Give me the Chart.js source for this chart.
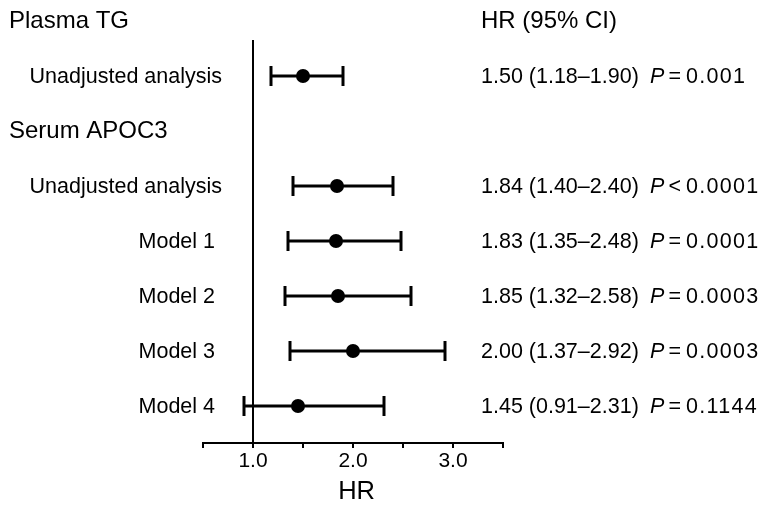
<!DOCTYPE html>
<html>
<head>
<meta charset="utf-8">
<script src="https://cdn.jsdelivr.net/npm/chart.js@4.4.1/dist/chart.umd.min.js"></script>
<style>
  html, body { margin: 0; padding: 0; background: #ffffff; }
  #wrap { width: 771px; height: 511px; position: relative; }
</style>
</head>
<body>
<div id="wrap"><canvas id="c" width="771" height="511"></canvas></div>
<script>
// ---- data ----
const headerLabels = ['Plasma TG', 'Serum APOC3'];
const headerRows = [0, 2];
const rowLabels = ['Unadjusted analysis', 'Unadjusted analysis', 'Model 1', 'Model 2', 'Model 3', 'Model 4'];
const rowIndex = [1, 3, 4, 5, 6, 7];
const hrValues = [1.50, 1.84, 1.83, 1.85, 2.00, 1.45];
const ciLower = [1.18, 1.40, 1.35, 1.32, 1.37, 0.91];
const ciUpper = [1.90, 2.40, 2.48, 2.58, 2.92, 2.31];
const pOperators = ['=', '<', '=', '=', '=', '='];
const pValues = ['0.001', '0.0001', '0.0001', '0.0003', '0.0003', '0.1144'];
const xTickLabels = ['1.0', '2.0', '3.0'];
const columnHeader = 'HR (95% CI)';
const axisTitle = 'HR';

const FONT = "'Liberation Sans', Arial, Helvetica, sans-serif";
Chart.defaults.font.family = FONT;
Chart.defaults.color = '#000';

const yTop = 0.345, yBottom = 7.673;
const refValue = 1.0;

const datasets = [];
// HR points (first = drawn on top)
datasets.push({
  data: hrValues.map((v, i) => ({ x: v, y: rowIndex[i] })),
  showLine: false,
  pointRadius: 7,
  pointBackgroundColor: '#000',
  pointBorderWidth: 0,
  pointStyle: 'circle'
});
// CI whiskers with caps
hrValues.forEach((v, i) => {
  datasets.push({
    data: [{ x: ciLower[i], y: rowIndex[i] }, { x: ciUpper[i], y: rowIndex[i] }],
    showLine: true,
    borderColor: '#000',
    borderWidth: 3,
    pointStyle: 'line',
    pointRotation: 90,
    pointRadius: 10,
    pointBorderColor: '#000',
    pointBorderWidth: 3
  });
});
// reference line at HR = 1
datasets.push({
  data: [{ x: refValue, y: yTop }, { x: refValue, y: yBottom }],
  showLine: true,
  borderColor: '#000',
  borderWidth: 2,
  pointRadius: 0
});

const textPlugin = {
  id: 'forestText',
  afterDraw(chart) {
    const ctx = chart.ctx;
    const ys = chart.scales.y;
    ctx.save();
    ctx.fillStyle = '#000';
    ctx.textBaseline = 'middle';
    // headers
    ctx.font = '24px ' + FONT;
    ctx.textAlign = 'left';
    headerLabels.forEach((t, i) => {
      ctx.fillText(t, 9, ys.getPixelForValue(headerRows[i]) + 0.5);
    });
    ctx.fillText(columnHeader, 481, ys.getPixelForValue(0) + 0.5);
    // row labels
    ctx.font = '21.5px ' + FONT;
    ctx.textAlign = 'right';
    rowLabels.forEach((t, i) => {
      const rx = t.startsWith('Model') ? 215 : 222;
      ctx.fillText(t, rx, ys.getPixelForValue(rowIndex[i]) + 1);
    });
    // estimates
    ctx.textAlign = 'left';
    hrValues.forEach((v, i) => {
      const y = ys.getPixelForValue(rowIndex[i]) + 1;
      ctx.font = '21.5px ' + FONT;
      ctx.letterSpacing = '0px';
      const s = v.toFixed(2) + ' (' + ciLower[i].toFixed(2) + '\u2013' + ciUpper[i].toFixed(2) + ')';
      ctx.fillText(s, 481, y);
      ctx.font = 'italic 21.5px ' + FONT;
      ctx.fillText('P', 650, y);
      ctx.font = '21.5px ' + FONT;
      ctx.fillText(pOperators[i], 668.5, y);
      ctx.letterSpacing = '1.3px';
      ctx.fillText(pValues[i], 686, y);
      ctx.letterSpacing = '0px';
    });
    ctx.restore();
  }
};

new Chart(document.getElementById('c'), {
  type: 'scatter',
  data: { datasets },
  options: {
    responsive: false,
    animation: false,
    events: [],
    clip: false,
    layout: { padding: { left: 203, right: 268, top: 40, bottom: 0 } },
    plugins: { legend: { display: false }, tooltip: { enabled: false } },
    scales: {
      x: {
        type: 'linear',
        min: 0.5,
        max: 3.5,
        afterFit: (scale) => { scale.height = 68; },
        border: { display: true, color: '#000', width: 2 },
        grid: { display: true, drawOnChartArea: false, drawTicks: true, tickLength: 5, color: '#000', lineWidth: 2 },
        ticks: {
          stepSize: 0.5,
          autoSkip: false,
          maxRotation: 0,
          padding: 1,
          color: '#000',
          font: { size: 21 },
          callback: (v) => {
            const s = Number(v).toFixed(1);
            return xTickLabels.includes(s) ? s : '';
          }
        },
        title: {
          display: true,
          text: ' ' + axisTitle,
          color: '#000',
          font: { size: 25.5 },
          padding: { top: 0, bottom: 4 }
        }
      },
      y: {
        type: 'linear',
        display: false,
        reverse: true,
        min: yTop,
        max: yBottom
      }
    }
  },
  plugins: [textPlugin]
});
</script>
</body>
</html>
